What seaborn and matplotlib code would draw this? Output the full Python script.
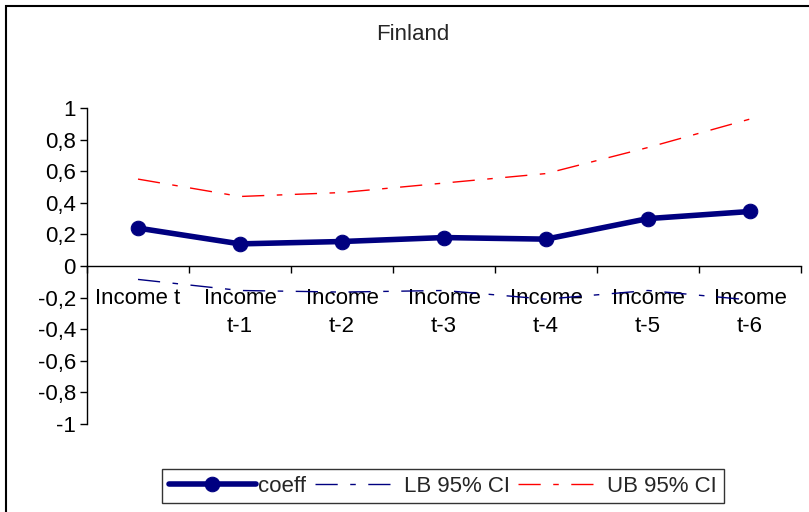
import numpy as np
import pandas as pd
import matplotlib
matplotlib.use("Agg")
import matplotlib.pyplot as plt
from matplotlib.patches import Rectangle
from matplotlib.ticker import FuncFormatter
import seaborn as sns

# --- data ---
categories = ["Income t", "Income\nt-1", "Income\nt-2", "Income\nt-3",
              "Income\nt-4", "Income\nt-5", "Income\nt-6"]
coeff = [0.24, 0.14, 0.155, 0.18, 0.17, 0.30, 0.345]
lb_95 = [-0.085, -0.155, -0.165, -0.155, -0.21, -0.155, -0.215]
ub_95 = [0.55, 0.44, 0.465, 0.525, 0.585, 0.75, 0.93]

df = pd.DataFrame({"pos": np.arange(len(categories)),
                   "coeff": coeff, "lb": lb_95, "ub": ub_95})

sns.set_style("white")
plt.rcParams["font.family"] = ["Liberation Sans", "DejaVu Sans"]
fs = 16

fig = plt.figure(figsize=(8.09, 5.12), dpi=100)
ax = fig.add_axes([87 / 809, 1 - 424 / 512, (801 - 87) / 809, (424 - 108) / 512])

navy = "#000080"
red = "#FF0000"
dash = (16, 9, 4, 9)

sns.lineplot(data=df, x="pos", y="coeff", ax=ax, color=navy, lw=4,
             marker="o", markersize=10.5, markeredgecolor=navy, label="coeff")
sns.lineplot(data=df, x="pos", y="lb", ax=ax, color=navy, lw=1,
             label="LB 95% CI")
ax.lines[-1].set_dashes(dash)
sns.lineplot(data=df, x="pos", y="ub", ax=ax, color=red, lw=1,
             label="UB 95% CI")
ax.lines[-1].set_dashes(dash)

ax.set_xlim(-0.5, len(categories) - 0.5)
ax.set_ylim(-1, 1)
ax.set_xlabel("")
ax.set_ylabel("")


def comma_fmt(v, p):
    v = round(v, 1)
    if abs(v) < 1e-9:
        return "0"
    return ("%g" % v).replace(".", ",")


# y axis
ax.set_yticks(np.round(np.arange(-1, 1.01, 0.2), 1))
ax.yaxis.set_major_formatter(FuncFormatter(comma_fmt))
ax.tick_params(axis="y", direction="out", length=5, width=1, pad=3,
               labelsize=fs, colors="black", left=True)

# x axis at zero, ticks between categories
ax.spines["bottom"].set_position(("data", 0))
ax.spines["top"].set_visible(False)
ax.spines["right"].set_visible(False)
for s in ["left", "bottom"]:
    ax.spines[s].set_color("black")
    ax.spines[s].set_linewidth(1)
ax.set_xticks(df["pos"])
ax.set_xticklabels(categories, linespacing=1.45)
ax.set_xticks(np.arange(-0.5, len(categories)), minor=True)
ax.tick_params(axis="x", which="major", length=0, pad=16, labelsize=fs,
               colors="black")
ax.tick_params(axis="x", which="minor", direction="out", length=5,
               width=1, bottom=True, color="black")
ax.grid(False)
ax.patch.set_alpha(0)

ax.get_legend().remove()
handles, labels = ax.get_legend_handles_labels()
leg = fig.legend(handles, labels, loc="center", ncol=3,
                 bbox_to_anchor=(443 / 809, 1 - 486 / 512),
                 fontsize=fs, frameon=True, fancybox=False,
                 handlelength=3.9, handletextpad=0.1, columnspacing=0.4,
                 borderpad=0.3, borderaxespad=0)
leg.get_frame().set_edgecolor("black")
leg.get_frame().set_linewidth(1)

fig.text(413 / 809, 1 - 35 / 512, "Finland", ha="center", va="center",
         fontsize=fs)

fig.patches.append(Rectangle((6 / 809, -0.1), 1.2, 1.1 - 6 / 512,
                             transform=fig.transFigure, fill=False,
                             edgecolor="black", lw=1.5))

fig.savefig("out.png", dpi=100)
